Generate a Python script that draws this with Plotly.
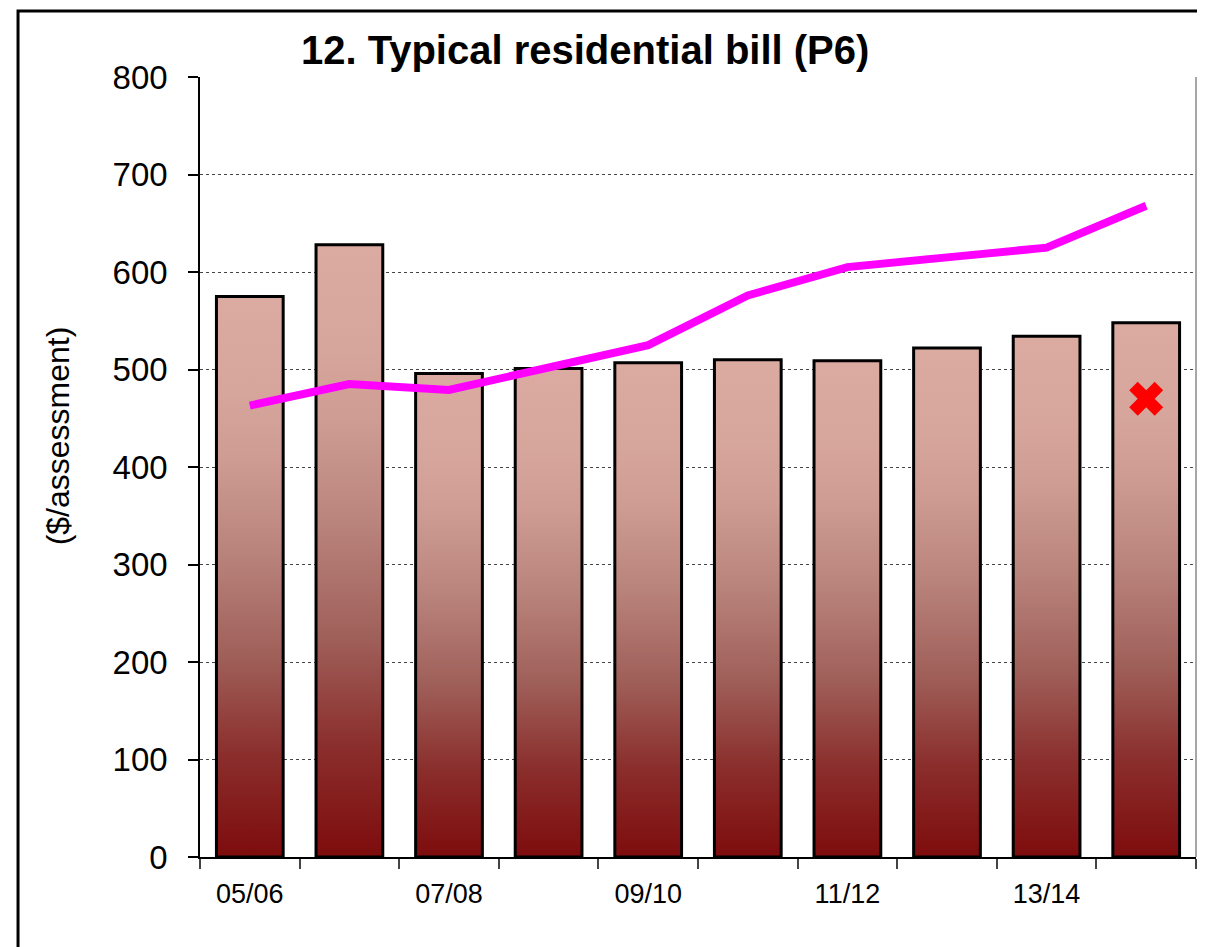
import plotly.graph_objects as go

categories = ["05/06", "06/07", "07/08", "08/09", "09/10", "10/11", "11/12", "12/13", "13/14", "14/15"]
tick_labels = ["05/06", "", "07/08", "", "09/10", "", "11/12", "", "13/14", ""]
bill_values = [575, 628, 496, 501, 507, 510, 509, 522, 534, 548]
trend_values = [463, 485, 479, 502, 525, 576, 605, 615, 625, 668]
target_category = ["14/15"]
target_value = [470]

BAR_HALF = 0.335
grad_scale = [
    [0.0, "#7E0C0D"],
    [0.18, "#8A2E2C"],
    [0.36, "#A0605A"],
    [0.54, "#B8837B"],
    [0.71, "#CE9C93"],
    [0.83, "#D6A59C"],
    [1.0, "#DBAAA1"],
]

fig = go.Figure()
idx = list(range(len(categories)))

for i, v in zip(idx, bill_values):
    fig.add_trace(go.Scatter(
        x=[i - BAR_HALF, i - BAR_HALF, i + BAR_HALF, i + BAR_HALF, i - BAR_HALF],
        y=[0, v, v, 0, 0],
        mode="lines",
        fill="toself",
        fillgradient=dict(type="vertical", colorscale=grad_scale),
        line=dict(color="black", width=3),
        showlegend=False,
        hoverinfo="skip",
    ))

fig.add_trace(go.Scatter(
    x=idx, y=trend_values, mode="lines",
    line=dict(color="#FF00FF", width=8),
    showlegend=False,
))

fig.add_trace(go.Scatter(
    x=[categories.index(c) for c in target_category], y=target_value, mode="markers",
    marker=dict(symbol="x", size=30, color="#FF0000", line=dict(width=0)),
    showlegend=False,
))

font_main = "Liberation Sans, Arial, sans-serif"

fig.update_layout(
    width=1197, height=939,
    margin=dict(l=192, r=9, t=69, b=90),
    paper_bgcolor="white", plot_bgcolor="white",
    xaxis=dict(
        range=[-0.5, len(categories) - 0.5],
        tickmode="array", tickvals=idx, ticktext=tick_labels,
        ticks="", showgrid=False, zeroline=False,
        showline=True, linecolor="black", linewidth=1.5,
        tickfont=dict(family=font_main, size=27, color="black"),
        ticklabelstandoff=12,
        minor=dict(tickmode="array", tickvals=[i - 0.5 for i in range(len(categories) + 1)],
                   ticks="outside", ticklen=10, tickcolor="#444", tickwidth=1.5, showgrid=False),
    ),
    yaxis=dict(
        range=[0, 800], dtick=100, tick0=0,
        showgrid=True, gridcolor="#444", gridwidth=1, griddash="dot",
        zeroline=False, showline=True, linecolor="black", linewidth=1.5,
        ticks="outside", ticklen=10, tickcolor="black", tickwidth=1.5,
        tickfont=dict(family=font_main, size=33, color="black"),
        ticklabelstandoff=14,
    ),
    shapes=[
        dict(type="line", xref="paper", yref="paper", x0=1, x1=1, y0=0, y1=1,
             line=dict(color="#888", width=1.5)),
        dict(type="rect", xref="paper", yref="paper", x0=-0.1827, x1=1.05, y0=-0.2, y1=1.0846,
             line=dict(color="black", width=3)),
    ],
    annotations=[
        dict(text="<b>12. Typical residential bill (P6)</b>", xref="paper", yref="paper",
             x=0.3866, y=1.0346, xanchor="center", yanchor="middle", showarrow=False,
             font=dict(family=font_main, size=40, color="black")),
        dict(text="($/assessment)", xref="paper", yref="paper",
             x=-0.143, y=0.54, xanchor="center", yanchor="middle", textangle=-90, showarrow=False,
             font=dict(family=font_main, size=32, color="black")),
    ],
)

fig.write_html("out.html")
